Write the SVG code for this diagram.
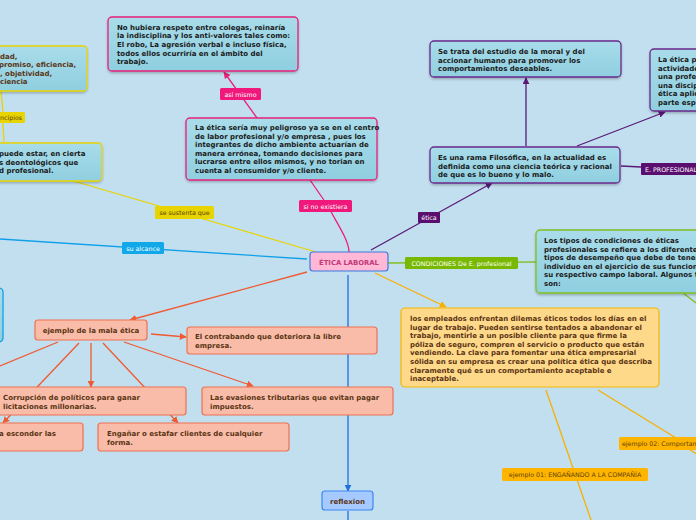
<svg xmlns="http://www.w3.org/2000/svg" width="696" height="520" viewBox="0 0 696 520">
<defs>
<linearGradient id="teal" x1="0" y1="0" x2="0" y2="1"><stop offset="0" stop-color="#a9dcea"/><stop offset="1" stop-color="#8fcfe0"/></linearGradient>
<filter id="sh" x="-5%" y="-10%" width="110%" height="130%"><feDropShadow dx="0" dy="1.5" stdDeviation="1" flood-color="#000" flood-opacity="0.25"/></filter>
<marker id="aPink" viewBox="0 0 10 10" refX="9" refY="5" markerWidth="7" markerHeight="7" orient="auto" markerUnits="userSpaceOnUse"><path d="M0,0 L10,5 L0,10 z" fill="#e8207a"/></marker>
<marker id="aPur" viewBox="0 0 10 10" refX="9" refY="5" markerWidth="7" markerHeight="7" orient="auto" markerUnits="userSpaceOnUse"><path d="M0,0 L10,5 L0,10 z" fill="#5a1a78"/></marker>
<marker id="aOr" viewBox="0 0 10 10" refX="9" refY="5" markerWidth="7" markerHeight="7" orient="auto" markerUnits="userSpaceOnUse"><path d="M0,0 L10,5 L0,10 z" fill="#f8b000"/></marker>
<marker id="aRed" viewBox="0 0 10 10" refX="9" refY="5" markerWidth="7" markerHeight="7" orient="auto" markerUnits="userSpaceOnUse"><path d="M0,0 L10,5 L0,10 z" fill="#f05a30"/></marker>
<marker id="aBlue" viewBox="0 0 10 10" refX="9" refY="5" markerWidth="7" markerHeight="7" orient="auto" markerUnits="userSpaceOnUse"><path d="M0,0 L10,5 L0,10 z" fill="#1f6fe0"/></marker>
</defs>
<style>
.t{font-family:"DejaVu Sans","Liberation Sans",sans-serif;font-size:7px;font-weight:bold;fill:#1a1a1a}
.tb{font-family:"DejaVu Sans","Liberation Sans",sans-serif;font-size:7px;font-weight:bold;fill:#5a3414}
.lb{font-family:"DejaVu Sans","Liberation Sans",sans-serif;font-size:6.3px;fill:#fff}
.lbd{font-family:"DejaVu Sans","Liberation Sans",sans-serif;font-size:6.3px;fill:#5a4200}
.tealP{fill:url(#teal);stroke:#e8207a;stroke-width:1.3}
.tealY{fill:url(#teal);stroke:#e8d400;stroke-width:1.3}
.tealV{fill:url(#teal);stroke:#6a2a8a;stroke-width:1.3}
.tealG{fill:url(#teal);stroke:#80c020;stroke-width:1.3}
.tealC{fill:url(#teal);stroke:#10a0e8;stroke-width:1.3}
.red{fill:#f9bca8;stroke:#f07050;stroke-width:1.2}
.c{fill:none;stroke-width:1.3}
</style>
<rect width="696" height="520" fill="#c2dff0"/>
<g id="connectors">
<path class="c" stroke="#e8207a" d="M257,118 L224,72" marker-end="url(#aPink)"/>
<path class="c" stroke="#e8207a" d="M349,252 C349,240 336,222 328,206 L310,180"/>
<path class="c" stroke="#e8d400" d="M316,252 L70,180"/>
<path class="c" stroke="#e8d400" d="M1,91 L3,112 M3,123 L4,143"/>
<path class="c" stroke="#10a0e8" d="M0,239 L307,259"/>
<path class="c" stroke="#5a1a78" d="M371,250 L492,183" marker-end="url(#aPur)"/>
<path class="c" stroke="#5a1a78" d="M526,146 L526,78" marker-end="url(#aPur)"/>
<path class="c" stroke="#5a1a78" d="M577,146 L665,112" marker-end="url(#aPur)"/>
<path class="c" stroke="#5a1a78" d="M621,166 L641,167"/>
<path class="c" stroke="#80c020" d="M388,263 L536,262"/>
<path class="c" stroke="#80c020" d="M683,293 L700,306"/>
<path class="c" stroke="#f8b000" d="M375,273 L446,307" marker-end="url(#aOr)"/>
<path class="c" stroke="#f8b000" d="M546,390 L591,520"/>
<path class="c" stroke="#f8b000" d="M598,390 L676,438 M690,450 L700,456"/>
<path class="c" stroke="#f05a30" d="M307,272 L130,320" marker-end="url(#aRed)"/>
<path class="c" stroke="#f05a30" d="M151,334 L186,337" marker-end="url(#aRed)"/>
<path class="c" stroke="#f05a30" d="M58,342 L0,366"/>
<path class="c" stroke="#f05a30" d="M79,343 L3,423" marker-end="url(#aRed)"/>
<path class="c" stroke="#f05a30" d="M91,343 L91,387" marker-end="url(#aRed)"/>
<path class="c" stroke="#f05a30" d="M103,343 L178,423" marker-end="url(#aRed)"/>
<path class="c" stroke="#f05a30" d="M124,342 L253,386" marker-end="url(#aRed)"/>
<path class="c" stroke="#1f6fe0" d="M348,275 L348,491" marker-end="url(#aBlue)"/>
<path class="c" stroke="#1f6fe0" d="M348,511 L348,520"/>
</g>
<g id="labels">
<g id="lbl-asimismo"><rect x="220" y="88" width="41" height="12" rx="1.5" fill="#f0187a"/><text class="lb" x="240.5" y="96.5" text-anchor="middle">así mismo</text></g>
<g id="lbl-sinoexistiera"><rect x="299" y="200" width="53" height="12" rx="1.5" fill="#f0187a"/><text class="lb" x="325.5" y="208.5" text-anchor="middle">si no existiera</text></g>
<g id="lbl-sesustenta"><rect x="155" y="206" width="59" height="13" rx="1.5" fill="#e8d400"/><text class="lbd" x="184.5" y="215" text-anchor="middle">se sustenta que</text></g>
<g id="lbl-principios"><rect x="-6" y="112" width="31" height="11" rx="1.5" fill="#e8d400"/><text class="lbd" x="0" y="120">ncipios</text></g>
<g id="lbl-sualcance"><rect x="122" y="242" width="42" height="12" rx="1.5" fill="#10a8e8"/><text class="lb" x="143" y="250.5" text-anchor="middle">su alcance</text></g>
<g id="lbl-etica"><rect x="418" y="212" width="22" height="11" rx="1" fill="#5a0f6e"/><text class="lb" x="429" y="220" text-anchor="middle">ética</text></g>
<g id="lbl-eprof"><rect x="641" y="163" width="62" height="12" rx="1" fill="#5a0f6e"/><text class="lb" x="645" y="171.5">E. PROFESIONAL</text></g>
<g id="lbl-condiciones"><rect x="405" y="257" width="113" height="12" rx="1.5" fill="#78b800"/><text class="lb" x="461.5" y="265.5" text-anchor="middle">CONDICIONES De E. profesional</text></g>
<g id="lbl-ej01"><rect x="502" y="468" width="146" height="13" rx="1.5" fill="#ffb400"/><text class="lbd" x="575" y="477" text-anchor="middle">ejemplo 01: ENGAÑANDO A LA COMPAÑÍA</text></g>
<g id="lbl-ej02"><rect x="619" y="437" width="84" height="13" rx="1.5" fill="#ffb400"/><text class="lbd" x="622" y="446">ejemplo 02: Comportamiento</text></g>
</g>
<g id="n-noHubiera"><rect class="tealP" filter="url(#sh)" x="108" y="17" width="190" height="54" rx="4"/>
<text class="t" x="117"><tspan x="117" y="29.5">No hubiera respeto entre colegas, reinaría</tspan><tspan x="117" y="38.2">la indisciplina y los anti-valores tales como:</tspan><tspan x="117" y="46.8">El robo, La agresión verbal e incluso física,</tspan><tspan x="117" y="55.5">todos ellos ocurriría en el ámbito del</tspan><tspan x="117" y="64.2">trabajo.</tspan></text></g>
<g id="n-laEtica"><rect class="tealP" filter="url(#sh)" x="186" y="118" width="191" height="62" rx="4"/>
<text class="t"><tspan x="195" y="130">La ética sería muy peligroso ya se en el centro</tspan><tspan x="195" y="138.6">de labor profesional y/o empresa , pues los</tspan><tspan x="195" y="147.2">integrantes de dicho ambiente actuarían de</tspan><tspan x="195" y="155.8">manera errónea, tomando decisiones para</tspan><tspan x="195" y="164.4">lucrarse entre  ellos mismos, y  no torian en</tspan><tspan x="195" y="173">cuenta al consumidor y/o cliente.</tspan></text></g>
<g id="n-valores"><rect class="tealY" filter="url(#sh)" x="-10" y="46" width="97" height="45" rx="4"/>
<text class="tb"><tspan x="0" y="58.5">dad,</tspan><tspan x="-1" y="67">promiso, eficiencia,</tspan><tspan x="0" y="75.5">, objetividad,</tspan><tspan x="0" y="84">ciencia</tspan></text></g>
<g id="n-puedeEstar"><rect class="tealY" filter="url(#sh)" x="-10" y="143" width="112" height="38" rx="4"/>
<text class="t"><tspan x="-1" y="156">puede estar, en cierta</tspan><tspan x="-1" y="164.6">s deontológicos que</tspan><tspan x="-1" y="173.2">d profesional.</tspan></text></g>
<g id="n-alcance"><rect class="tealC" x="-10" y="288" width="13" height="54" rx="4"/></g>
<g id="n-central"><rect x="310" y="252" width="78" height="19" rx="3" fill="#ffb8d6" stroke="#3a7ae0" stroke-width="1.2"/><text x="349" y="264.5" text-anchor="middle" style="font-family:'DejaVu Sans','Liberation Sans',sans-serif;font-size:6.8px;font-weight:bold;fill:#c03a78">ÉTICA LABORAL</text></g>
<g id="n-seTrata"><rect class="tealV" filter="url(#sh)" x="430" y="41" width="191" height="36" rx="4"/>
<text class="t"><tspan x="438" y="54">Se trata del estudio de la moral y del</tspan><tspan x="438" y="62.6">accionar humano para promover los</tspan><tspan x="438" y="71.2">comportamientos deseables.</tspan></text></g>
<g id="n-rama"><rect class="tealV" filter="url(#sh)" x="430" y="147" width="190" height="36" rx="4"/>
<text class="t"><tspan x="438" y="160">Es una rama Filosófica, en la actualidad es</tspan><tspan x="438" y="168.6">definida como una ciencia teórica y racional</tspan><tspan x="438" y="177.2">de que es lo bueno y lo malo.</tspan></text></g>
<g id="n-eticaP"><rect class="tealV" filter="url(#sh)" x="650" y="49" width="60" height="62" rx="4"/>
<text class="t"><tspan x="658" y="62">La ética p</tspan><tspan x="658" y="70.6">actividade</tspan><tspan x="658" y="79.2">una profe</tspan><tspan x="658" y="87.8">una discip</tspan><tspan x="658" y="96.4">ética aplic</tspan><tspan x="658" y="105">parte esp</tspan></text></g>
<g id="n-tipos"><rect class="tealG" filter="url(#sh)" x="536" y="230" width="170" height="63" rx="4"/>
<text class="t"><tspan x="544" y="243">Los tipos de condiciones de éticas</tspan><tspan x="544" y="251.6">profesionales se refiere a los diferentes</tspan><tspan x="544" y="260.2">tipos de desempeño que debe de tener</tspan><tspan x="544" y="268.8">individuo en el ejercicio de sus funcion</tspan><tspan x="544" y="277.4">su respectivo campo laboral. Algunos t</tspan><tspan x="544" y="286">son:</tspan></text></g>
<g id="n-empleados"><rect x="401" y="308" width="258" height="79" rx="4" fill="#ffd98a" stroke="#f5b800" stroke-width="1.2"/>
<text class="tb"><tspan x="410" y="321">los empleados enfrentan dilemas éticos todos los días en el</tspan><tspan x="410" y="329.6">lugar de trabajo. Pueden sentirse tentados a abandonar el</tspan><tspan x="410" y="338.2">trabajo,  mentirle a un posible cliente para que firme la</tspan><tspan x="410" y="346.8">póliza de seguro, compren el servicio o producto que están</tspan><tspan x="410" y="355.4">vendiendo. La clave para fomentar una ética empresarial</tspan><tspan x="410" y="364">sólida en su empresa es crear una política ética que describa</tspan><tspan x="410" y="372.6">claramente qué es un comportamiento aceptable e</tspan><tspan x="410" y="381.2">inaceptable.</tspan></text></g>
<g id="n-mala"><rect class="red" x="35" y="320" width="112" height="20" rx="3"/><text class="tb" x="91" y="333" text-anchor="middle">ejemplo de la mala ética</text></g>
<g id="n-contrabando"><rect class="red" x="187" y="327" width="190" height="27" rx="3"/><text class="tb"><tspan x="195" y="339">El contrabando que deteriora la libre</tspan><tspan x="195" y="348">empresa.</tspan></text></g>
<g id="n-corrupcion"><rect class="red" x="-10" y="387" width="196" height="28" rx="3"/><text class="tb"><tspan x="3" y="399.5">Corrupción de políticos para ganar</tspan><tspan x="3" y="408.5">licitaciones millonarias.</tspan></text></g>
<g id="n-evasiones"><rect class="red" x="202" y="387" width="191" height="28" rx="3"/><text class="tb"><tspan x="210" y="399.5">Las evasiones tributarias que evitan pagar</tspan><tspan x="210" y="408.5">impuestos.</tspan></text></g>
<g id="n-esconder"><rect class="red" x="-10" y="423" width="93" height="28" rx="3"/><text class="tb" x="-1" y="436">a esconder las</text></g>
<g id="n-enganar"><rect class="red" x="98" y="423" width="191" height="28" rx="3"/><text class="tb"><tspan x="107" y="436">Engañar o estafar clientes de cualquier</tspan><tspan x="107" y="445">forma.</tspan></text></g>
<g id="n-reflexion"><rect x="322" y="491" width="51" height="19" rx="3" fill="#a6caff" stroke="#3a88f0" stroke-width="1.2"/><text class="tb" x="347.5" y="503.5" text-anchor="middle">reflexion</text></g>
</svg>
